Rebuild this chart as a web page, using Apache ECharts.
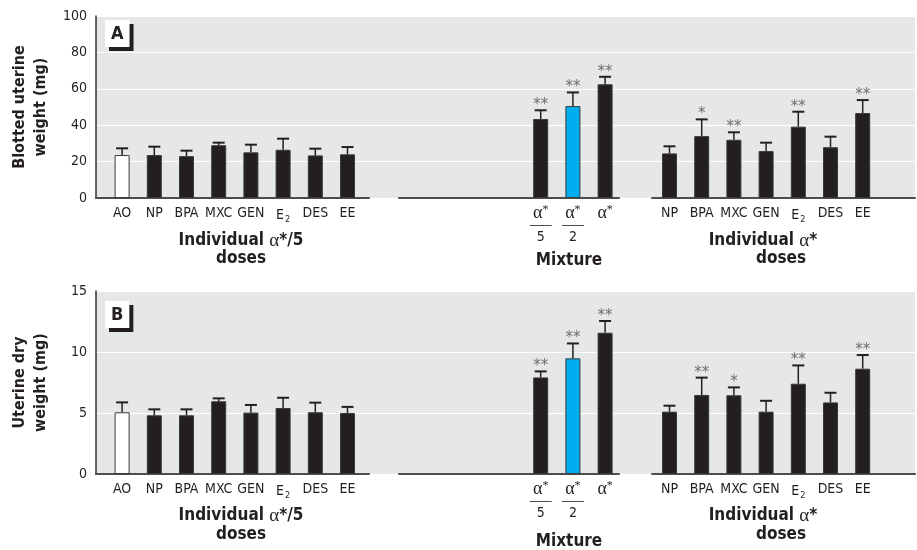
<!DOCTYPE html>
<html>
<head>
<meta charset="utf-8">
<script src="https://cdn.jsdelivr.net/npm/echarts@6/dist/echarts.min.js"></script>
<style>
  html, body { margin: 0; padding: 0; background: #fff; }
  #chart { width: 917px; height: 550px; }
</style>
</head>
<body>
<div id="chart"></div>
<script>
// Treatment groups
const lowDoseNames = ['AO', 'NP', 'BPA', 'MXC', 'GEN', 'E2', 'DES', 'EE'];
const mixtureNames = ['α*/5', 'α*/2', 'α*'];
const highDoseNames = ['NP', 'BPA', 'MXC', 'GEN', 'E2', 'DES', 'EE'];

// Panel A: blotted uterine weight (mg), mean and SEM
const blottedLow = [23.6, 23.6, 23.0, 29.0, 25.1, 26.5, 23.4, 24.0];
const blottedLowSem = [3.7, 4.6, 3.0, 1.4, 4.2, 6.1, 3.7, 4.0];
const blottedMix = [43.4, 50.5, 62.5];
const blottedMixSem = [4.8, 7.5, 4.1];
const blottedHigh = [24.5, 34.0, 32.0, 25.8, 39.2, 27.9, 46.7];
const blottedHighSem = [3.9, 9.2, 4.1, 4.6, 8.2, 5.8, 7.1];
const blottedMixStars = ['**', '**', '**'];
const blottedHighStars = ['', '*', '**', '', '**', '', '**'];

// Panel B: uterine dry weight (mg), mean and SEM
const dryLow = [5.06, 4.81, 4.81, 5.96, 5.03, 5.41, 5.06, 5.0];
const dryLowSem = [0.81, 0.49, 0.49, 0.24, 0.63, 0.84, 0.79, 0.5];
const dryMix = [7.92, 9.48, 11.58];
const dryMixSem = [0.49, 1.22, 0.96];
const dryHigh = [5.11, 6.48, 6.45, 5.11, 7.4, 5.87, 8.63];
const dryHighSem = [0.49, 1.42, 0.65, 0.89, 1.5, 0.79, 1.12];
const dryMixStars = ['**', '**', '**'];
const dryHighStars = ['', '**', '*', '', '**', '', '**'];

// Axis ranges
const blottedTicks = { min: 0, max: 100, interval: 20 };
const dryTicks = { min: 0, max: 15, interval: 5 };

const NARROW = "'Liberation Sans Narrow', 'DejaVu Sans Condensed', 'Roboto', sans-serif";
const SERIF = "'Liberation Serif', 'DejaVu Serif', serif";
const INK = '#231f20';
const PANEL_BG = '#e6e7e8';
const BLUE = '#00aeef';

// Slot layout along the category axis: low doses, gap, mixture, gap, high doses, gap
const GAP1 = 5, GAP2 = 1, GAP3 = 1;
function blanks(n) { return new Array(n).fill(null); }
const categories = [].concat(lowDoseNames, blanks(GAP1).map(() => ''), mixtureNames,
  blanks(GAP2).map(() => ''), highDoseNames, blanks(GAP3).map(() => ''));
const groupKind = [].concat(lowDoseNames.map((n, i) => i === 0 ? 'control' : 'low'), blanks(GAP1),
  mixtureNames.map((n, i) => i === 1 ? 'mixHalf' : 'mix'), blanks(GAP2),
  highDoseNames.map(() => 'high'), blanks(GAP3));

function buildPanel(low, lowSem, mix, mixSem, high, highSem, mixStars, highStars) {
  const vals = [].concat(low, blanks(GAP1), mix, blanks(GAP2), high, blanks(GAP3));
  const sems = [].concat(lowSem, blanks(GAP1), mixSem, blanks(GAP2), highSem, blanks(GAP3));
  const stars = [].concat(low.map(() => ''), blanks(GAP1), mixStars, blanks(GAP2), highStars, blanks(GAP3));
  const bars = vals.map((v, i) => {
    if (v === null) return '-';
    const k = groupKind[i];
    const color = k === 'control' ? '#ffffff' : (k === 'mixHalf' ? BLUE : INK);
    return { value: v, itemStyle: { color: color } };
  });
  const errs = [];
  const errStars = [];
  vals.forEach((v, i) => {
    if (v === null) return;
    errs.push([i, v, v + sems[i]]);
    errStars.push(stars[i] || '');
  });
  return { bars, errs, errStars };
}

const panelA = buildPanel(blottedLow, blottedLowSem, blottedMix, blottedMixSem,
  blottedHigh, blottedHighSem, blottedMixStars, blottedHighStars);
const panelB = buildPanel(dryLow, dryLowSem, dryMix, dryMixSem,
  dryHigh, dryHighSem, dryMixStars, dryHighStars);

const labelRich = {
  sub: { fontSize: 9, fontFamily: NARROW, color: INK, padding: [9, 0, 0, 1] },
  g: { fontSize: 18, fontFamily: SERIF, color: INK, lineHeight: 15 },
  gs: { fontSize: 12, fontFamily: SERIF, color: INK, padding: [0, 0, 7, 0], lineHeight: 15 },
  ln: { width: 22, height: 1, lineHeight: 9, backgroundColor: '#4d4d4d', fontSize: 1 },
  n: { fontSize: 14, fontFamily: NARROW, color: INK, lineHeight: 15 }
};

function formatCategory(name) {
  if (!name) return '';
  if (name === 'E2') return 'E{sub|2}';
  const frac = name.match(/^α\*\/(\d)$/);
  if (frac) return '{g|α}{gs|*}\n{ln| }\n{n|' + frac[1] + '}';
  if (name === 'α*') return '{g|α}{gs|*}';
  return name;
}

function panelComponents(p, top, height, ticks, yName, data) {
  const g = p * 6;
  const grids = [
    { left: 96, right: 2, top: top, height: height, show: true, backgroundColor: PANEL_BG, borderWidth: 0 },
    { left: 106, right: 6, top: top, height: height },
    { left: 96, width: 273, top: top, height: height },
    { left: 399, width: 220, top: top, height: height },
    { left: 652, width: 263, top: top, height: height }
  ];
  const segLine = { show: true, lineStyle: { color: '#4d4d4d', width: 2 } };
  const xAxes = [
    { gridIndex: g, type: 'value', show: false },
    {
      gridIndex: g + 1, type: 'category', data: categories,
      axisLine: { show: false }, axisTick: { show: false },
      axisLabel: {
        interval: 0, margin: 8, fontSize: 14, fontFamily: NARROW, color: INK,
        formatter: formatCategory, rich: labelRich
      }
    },
    { gridIndex: g + 2, type: 'category', data: [''], axisLine: segLine, axisTick: { show: false }, axisLabel: { show: false } },
    { gridIndex: g + 3, type: 'category', data: [''], axisLine: segLine, axisTick: { show: false }, axisLabel: { show: false } },
    { gridIndex: g + 4, type: 'category', data: [''], axisLine: segLine, axisTick: { show: false }, axisLabel: { show: false } }
  ];
  const yAxes = [
    {
      gridIndex: g, type: 'value', min: ticks.min, max: ticks.max, interval: ticks.interval,
      axisLine: { show: true, lineStyle: { color: '#333', width: 1.5 } },
      axisTick: { show: false },
      splitLine: { show: true, lineStyle: { color: '#ffffff', width: 1.2 } },
      axisLabel: { fontSize: 14, fontFamily: NARROW, color: INK, margin: 9 },
      name: yName, nameLocation: 'middle', nameRotate: 90, nameGap: 45,
      nameTextStyle: { fontSize: 16, fontWeight: 'bold', fontFamily: NARROW, color: INK, lineHeight: 21 }
    }
  ];
  for (let k = 1; k < 5; k++) {
    yAxes.push({ gridIndex: g + k, type: 'value', min: ticks.min, max: ticks.max, show: false, splitLine: { show: false } });
  }
  const series = [
    {
      type: 'bar', xAxisIndex: g + 1, yAxisIndex: g + 1, data: data.bars, barWidth: 15,
      itemStyle: { borderColor: '#3a3a3a', borderWidth: 1 }, z: 2
    },
    {
      type: 'custom', xAxisIndex: g + 1, yAxisIndex: g + 1, data: data.errs, z: 3,
      renderItem: function (params, api) {
        const x = api.value(0);
        const pBar = api.coord([x, api.value(1)]);
        const pTop = api.coord([x, api.value(2)]);
        const hw = 6;
        const star = data.errStars[params.dataIndex];
        const children = [
          { type: 'line', shape: { x1: pBar[0], y1: pBar[1], x2: pTop[0], y2: pTop[1] }, style: { stroke: INK, lineWidth: 1.5 } },
          { type: 'line', shape: { x1: pTop[0] - hw, y1: pTop[1], x2: pTop[0] + hw, y2: pTop[1] }, style: { stroke: INK, lineWidth: 2 } }
        ];
        if (star) {
          children.push({
            type: 'text', x: pTop[0], y: pTop[1] - 5,
            style: { text: star, fill: '#6d6e71', fontSize: 15, fontFamily: "'DejaVu Sans', sans-serif", align: 'center', verticalAlign: 'middle' }
          });
        }
        return { type: 'group', children: children };
      }
    }
  ];
  return { grids, xAxes, yAxes, series };
}

const A = panelComponents(0, 16, 182, blottedTicks, 'Blotted uterine\nweight (mg)', panelA);
const B = panelComponents(1, 291, 183, dryTicks, 'Uterine dry\nweight (mg)', panelB);

// padding grids so each panel uses 6 grid slots
function spacer(top) { return { left: 0, width: 1, top: top, height: 1, show: false }; }
const grids = [].concat(A.grids, [spacer(0)], B.grids, [spacer(0)]);
const xAxes = [].concat(A.xAxes, [{ gridIndex: 5, type: 'value', show: false }], B.xAxes, [{ gridIndex: 11, type: 'value', show: false }]);
const yAxes = [].concat(A.yAxes, [{ gridIndex: 5, type: 'value', show: false }], B.yAxes, [{ gridIndex: 11, type: 'value', show: false }]);

const titleFont = { fontSize: 17, fontWeight: 'bold', fontFamily: NARROW, fill: INK };
const titleRich = {
  b: { fontSize: 17, fontWeight: 'bold', fontFamily: NARROW, color: INK },
  g: { fontSize: 19, fontFamily: SERIF, color: INK }
};
function groupTitle(x, y, text) {
  return { type: 'text', x: x, y: y, style: Object.assign({ text: text, align: 'center', verticalAlign: 'middle', rich: titleRich }, titleFont) };
}

const option = {
  animation: false,
  backgroundColor: '#ffffff',
  title: [
    {
      text: 'A', left: 105, top: 20, padding: [5, 6, 4, 6], backgroundColor: '#ffffff',
      shadowColor: INK, shadowOffsetX: 4, shadowOffsetY: 4, shadowBlur: 0,
      textStyle: { fontSize: 18, fontWeight: 'bold', fontFamily: NARROW, color: INK }
    },
    {
      text: 'B', left: 105, top: 301, padding: [5, 6, 4, 6], backgroundColor: '#ffffff',
      shadowColor: INK, shadowOffsetX: 4, shadowOffsetY: 4, shadowBlur: 0,
      textStyle: { fontSize: 18, fontWeight: 'bold', fontFamily: NARROW, color: INK }
    }
  ],
  grid: grids,
  xAxis: xAxes,
  yAxis: yAxes,
  series: [].concat(A.series, B.series),
  graphic: [
    groupTitle(241, 241, '{b|Individual }{g|α}{b|*/5}'),
    groupTitle(241, 259, '{b|doses}'),
    groupTitle(569, 261, '{b|Mixture}'),
    groupTitle(763, 241, '{b|Individual }{g|α}{b|*}'),
    groupTitle(781, 259, '{b|doses}'),
    groupTitle(241, 516, '{b|Individual }{g|α}{b|*/5}'),
    groupTitle(241, 535, '{b|doses}'),
    groupTitle(569, 542, '{b|Mixture}'),
    groupTitle(763, 516, '{b|Individual }{g|α}{b|*}'),
    groupTitle(781, 535, '{b|doses}')
  ]
};

const chart = echarts.init(document.getElementById('chart'), null, { renderer: 'canvas' });
chart.setOption(option);
</script>
</body>
</html>
